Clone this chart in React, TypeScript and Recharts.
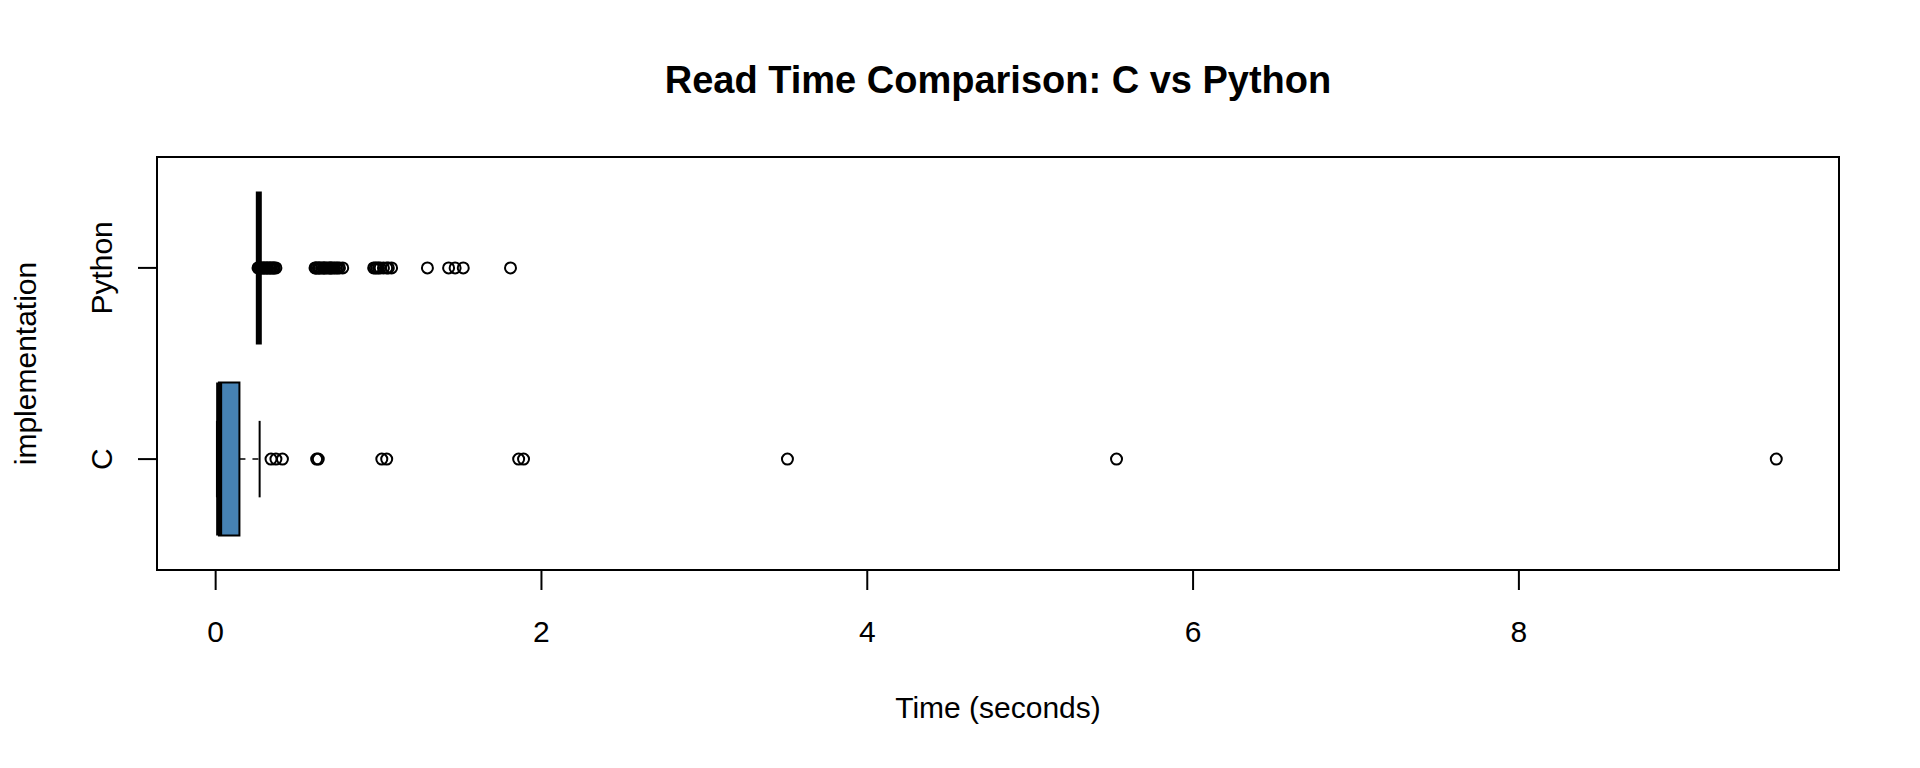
import React from 'react';
import { ScatterChart, Scatter, XAxis, YAxis, ReferenceArea, ReferenceLine } from 'recharts';

// box statistics per implementation (seconds)
const categories = ['C', 'Python'];
const lowerWhisker = [0.008, 0.265];
const q1 = [0.02, 0.265];
const median = [0.0215, 0.265];
const q3 = [0.146, 0.265];
const upperWhisker = [0.27, 0.265];

const cOutliers = [0.34, 0.37, 0.41, 0.62, 0.63, 1.02, 1.05, 1.86, 1.89, 3.51, 5.53, 9.58];
const pythonOutliers = [
  0.26, 0.265, 0.27, 0.275, 0.28, 0.29, 0.295, 0.3, 0.31, 0.315, 0.32, 0.33,
  0.335, 0.34, 0.35, 0.355, 0.36, 0.37,
  0.61, 0.615, 0.62, 0.63, 0.635, 0.64, 0.65, 0.66, 0.665, 0.67, 0.68, 0.69,
  0.7, 0.705, 0.71, 0.72, 0.73, 0.74, 0.75, 0.76, 0.78,
  0.97, 0.98, 0.99, 1.0, 1.01, 1.03, 1.05, 1.06, 1.08,
  1.3, 1.43, 1.47, 1.52, 1.81,
];

const xTicks = [0, 2, 4, 6, 8];
const yTicks = [1, 2];

const FONT = '"Liberation Sans", Arial, Helvetica, sans-serif';
const X_DOMAIN: [number, number] = [-0.36, 9.965];
const Y_DOMAIN: [number, number] = [0.42, 2.58];
const BOX_HALF = 0.4;
const STAPLE_HALF = 0.2;

const cPoints = cOutliers.map((x) => ({ x, y: 1 }));
const pyPoints = pythonOutliers.map((x) => ({ x, y: 2 }));

const Outlier = (props: any) => (
  <circle cx={props.cx} cy={props.cy} r={5.5} fill="none" stroke="#000" strokeWidth={2} />
);

const XTick = ({ x, y, payload }: any) => (
  <text x={x} y={y + 52} textAnchor="middle" fontSize={30} fontFamily={FONT} fill="#000">
    {payload.value}
  </text>
);

const YTick = ({ x, y, payload }: any) => {
  const bx = x - 25.5;
  return (
    <text
      x={bx}
      y={y}
      transform={`rotate(-90 ${bx} ${y})`}
      textAnchor="middle"
      fontSize={30}
      fontFamily={FONT}
      fill="#000"
    >
      {categories[payload.value - 1]}
    </text>
  );
};

const renderTitle = (props: any) => {
  const { x, y, width } = props.viewBox;
  return (
    <text x={x + width / 2} y={y - 64} textAnchor="middle" fontSize={38} fontWeight="bold" fontFamily={FONT} fill="#000">
      Read Time Comparison: C vs Python
    </text>
  );
};

const renderXLabel = (props: any) => {
  const { x, y, width } = props.viewBox;
  return (
    <text x={x + width / 2} y={y + 148} textAnchor="middle" fontSize={30} fontFamily={FONT} fill="#000">
      Time (seconds)
    </text>
  );
};

const renderYLabel = (props: any) => {
  const { y, height } = props.viewBox;
  const lx = 28;
  const ly = y + height / 2;
  return (
    <text x={lx} y={ly} transform={`rotate(-90 ${lx} ${ly})`} textAnchor="middle" fontSize={30} fontFamily={FONT} fill="#000">
      implementation
    </text>
  );
};

export default function App() {
  return (
    <ScatterChart width={1904} height={752} margin={{ top: 149, right: 73, bottom: 0, left: 0 }}>
      <XAxis
        type="number"
        dataKey="x"
        domain={X_DOMAIN}
        allowDataOverflow
        ticks={xTicks}
        tick={<XTick />}
        tickSize={20}
        tickMargin={0}
        tickLine={{ stroke: '#000', strokeWidth: 2 }}
        axisLine={false}
        height={190}
        label={renderXLabel}
      />
      <YAxis
        type="number"
        dataKey="y"
        domain={Y_DOMAIN}
        allowDataOverflow
        ticks={yTicks}
        tick={<YTick />}
        tickSize={19}
        tickMargin={0}
        tickLine={{ stroke: '#000', strokeWidth: 2 }}
        axisLine={false}
        width={149}
        label={renderYLabel}
      />

      {categories.map((c, i) => {
        const pos = i + 1;
        return (
          <React.Fragment key={c}>
            {q3[i] > q1[i] && (
              <ReferenceArea
                x1={q1[i]}
                x2={q3[i]}
                y1={pos - BOX_HALF}
                y2={pos + BOX_HALF}
                fill="#4682B4"
                fillOpacity={1}
                stroke="#000"
                strokeWidth={2}
                ifOverflow="visible"
              />
            )}
            {upperWhisker[i] > q3[i] && (
              <ReferenceLine
                segment={[{ x: q3[i], y: pos }, { x: upperWhisker[i], y: pos }]}
                stroke="#000"
                strokeWidth={1.5}
                strokeDasharray="6 7"
                ifOverflow="visible"
              />
            )}
            {q1[i] > lowerWhisker[i] && (
              <ReferenceLine
                segment={[{ x: lowerWhisker[i], y: pos }, { x: q1[i], y: pos }]}
                stroke="#000"
                strokeWidth={1.5}
                strokeDasharray="6 7"
                ifOverflow="visible"
              />
            )}
            <ReferenceLine
              segment={[{ x: upperWhisker[i], y: pos - STAPLE_HALF }, { x: upperWhisker[i], y: pos + STAPLE_HALF }]}
              stroke="#000"
              strokeWidth={2}
              ifOverflow="visible"
            />
            <ReferenceLine
              segment={[{ x: lowerWhisker[i], y: pos - STAPLE_HALF }, { x: lowerWhisker[i], y: pos + STAPLE_HALF }]}
              stroke="#000"
              strokeWidth={2}
              ifOverflow="visible"
            />
            <ReferenceLine
              segment={[{ x: median[i], y: pos - BOX_HALF }, { x: median[i], y: pos + BOX_HALF }]}
              stroke="#000"
              strokeWidth={6}
              ifOverflow="visible"
            />
          </React.Fragment>
        );
      })}

      <Scatter data={cPoints} shape={<Outlier />} isAnimationActive={false} />
      <Scatter data={pyPoints} shape={<Outlier />} isAnimationActive={false} />

      {/* plot frame */}
      <ReferenceArea
        x1={X_DOMAIN[0]}
        x2={X_DOMAIN[1]}
        y1={Y_DOMAIN[0]}
        y2={Y_DOMAIN[1]}
        fill="none"
        stroke="#000"
        strokeWidth={2}
        ifOverflow="visible"
        label={renderTitle}
      />
    </ScatterChart>
  );
}
